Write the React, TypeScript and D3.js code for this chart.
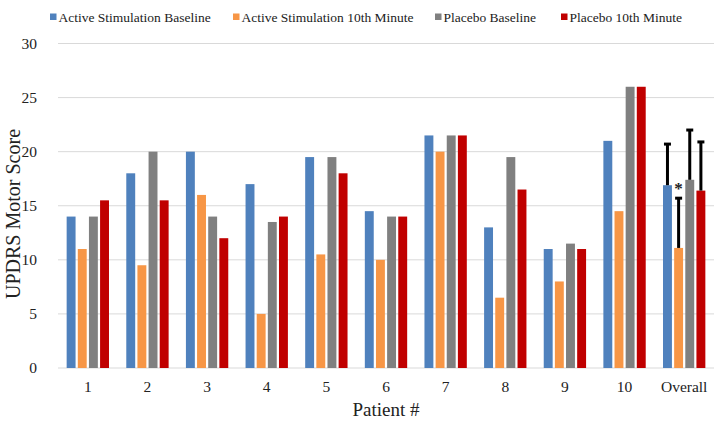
import React from "react";
import * as d3 from "d3";

const categories = ["1", "2", "3", "4", "5", "6", "7", "8", "9", "10", "Overall"];
const seriesNames = [
  "Active Stimulation Baseline",
  "Active Stimulation 10th Minute",
  "Placebo Baseline",
  "Placebo 10th Minute",
];
const activeBaseline = [14, 18, 20, 17, 19.5, 14.5, 21.5, 13, 11, 21, 16.9];
const active10th = [11, 9.5, 16, 5, 10.5, 10, 20, 6.5, 8, 14.5, 11.1];
const placeboBaseline = [14, 20, 14, 13.5, 19.5, 14, 21.5, 19.5, 11.5, 26, 17.4];
const placebo10th = [15.5, 15.5, 12, 14, 18, 14, 21.5, 16.5, 11, 26, 16.4];
const overallErrorTop = [20.7, 15.7, 22.0, 20.9];
const yTicks = [0, 5, 10, 15, 20, 25, 30];
const colors = ["#4F81BD", "#F79646", "#808080", "#C00000"];
const legendX = [50, 233, 435, 561];

const FONT = "'Liberation Serif', 'Times New Roman', serif";

export default function App() {
  const W = 725, H = 426;
  const left = 58, right = 714, top = 43.5, bottom = 368;
  const series = [activeBaseline, active10th, placeboBaseline, placebo10th];

  const x = d3.scaleBand<string>().domain(categories).range([left, right]).padding(0);
  const bw = x.bandwidth();
  const inner = d3
    .scaleBand<number>()
    .domain([0, 1, 2, 3])
    .range([bw * 0.145, bw * 0.855])
    .paddingInner(0.2)
    .paddingOuter(0);
  const y = d3.scaleLinear().domain([0, 30]).range([bottom, top]);
  const lastIdx = categories.length - 1;
  const orangeCx = (x(categories[lastIdx]) as number) + (inner(1) as number) + inner.bandwidth() / 2;

  return (
    <svg width={W} height={H} style={{ position: "absolute", left: 0, top: 0, background: "#fff" }} fontFamily={FONT}>
      {yTicks.map((t) => (
        <line key={t} x1={left} x2={right} y1={y(t)} y2={y(t)} stroke="#D9D9D9" strokeWidth={1} />
      ))}
      {yTicks.map((t) => (
        <text key={"l" + t} x={37} y={y(t)} dy="0.35em" textAnchor="end" fontSize={15.5} fill="#222">
          {t}
        </text>
      ))}
      {series.map((vals, si) =>
        vals.map((v, ci) => (
          <rect
            key={si + "-" + ci}
            x={(x(categories[ci]) as number) + (inner(si) as number)}
            y={y(v)}
            width={inner.bandwidth()}
            height={y(0) - y(v)}
            fill={colors[si]}
          />
        ))
      )}
      {overallErrorTop.map((e, si) => {
        const cx = (x(categories[lastIdx]) as number) + (inner(si) as number) + inner.bandwidth() / 2;
        const y0 = y(series[si][lastIdx]);
        const y1 = y(e);
        return (
          <g key={"e" + si}>
            <line x1={cx} x2={cx} y1={y0} y2={y1} stroke="#000" strokeWidth={3} />
            <line x1={cx - 3.5} x2={cx + 3.5} y1={y1} y2={y1} stroke="#000" strokeWidth={3} />
          </g>
        );
      })}
      <text
        x={orangeCx}
        y={y(overallErrorTop[1]) - 4}
        textAnchor="middle"
        fontSize={17}
        fontWeight="bold"
        fill="#222"
      >
        *
      </text>
      {categories.map((c) => (
        <text key={"c" + c} x={(x(c) as number) + bw / 2} y={392} textAnchor="middle" fontSize={15.5} fill="#222">
          {c}
        </text>
      ))}
      <text x={(left + right) / 2} y={416} textAnchor="middle" fontSize={19} fill="#222">
        Patient #
      </text>
      <text transform={`translate(20, 214) rotate(-90)`} textAnchor="middle" fontSize={20} fill="#222">
        UPDRS Motor Score
      </text>
      {seriesNames.map((n, i) => (
        <g key={"lg" + i}>
          <rect x={legendX[i]} y={13.5} width={6.5} height={6.5} fill={colors[i]} />
          <text x={legendX[i] + 8.5} y={21.5} fontSize={13.5} fill="#222">
            {n}
          </text>
        </g>
      ))}
    </svg>
  );
}
